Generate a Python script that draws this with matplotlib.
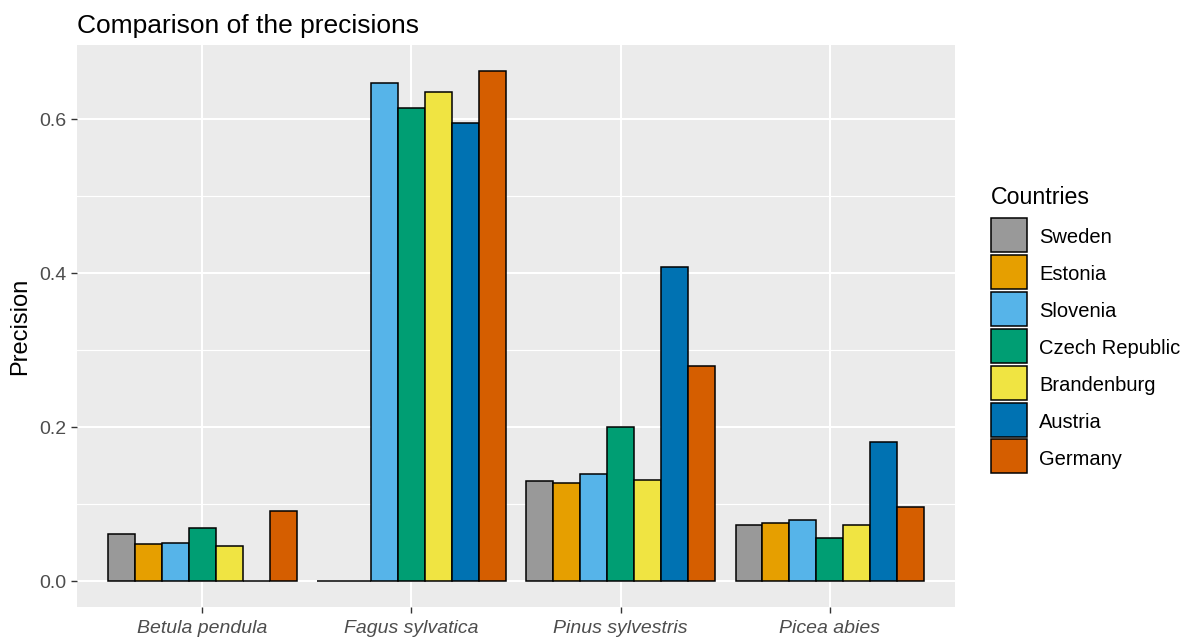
import matplotlib.pyplot as plt
import numpy as np

plt.rcParams['font.family'] = ['Liberation Sans', 'DejaVu Sans']

# donnees
species = ["Betula pendula", "Fagus sylvatica", "Pinus sylvestris", "Picea abies"]
countries = ["Sweden", "Estonia", "Slovenia", "Czech Republic", "Brandenburg", "Austria", "Germany"]
colors = ["#999999", "#E69F00", "#56B4E9", "#009E73", "#F0E442", "#0072B2", "#D55E00"]

sweden = [0.061, 0.0, 0.130, 0.073]
estonia = [0.048, 0.0, 0.128, 0.076]
slovenia = [0.050, 0.647, 0.140, 0.080]
czech = [0.069, 0.615, 0.201, 0.057]
brandenburg = [0.046, 0.635, 0.132, 0.073]
austria = [0.0, 0.595, 0.408, 0.181]
germany = [0.092, 0.663, 0.280, 0.096]

values = [sweden, estonia, slovenia, czech, brandenburg, austria, germany]

fig = plt.figure(figsize=(11.84, 6.41), dpi=100)
ax = fig.add_axes([77 / 1184, 34 / 641, 878 / 1184, 562 / 641])
ax.set_facecolor("#EBEBEB")
for s in ax.spines.values():
    s.set_visible(False)

x = np.arange(1, len(species) + 1)
n = len(countries)
w = 0.9 / n
for i in range(n):
    pos = x - 0.45 + w / 2 + i * w
    ax.bar(pos, values[i], width=w, color=colors[i], edgecolor="black",
           linewidth=1.1, label=countries[i], zorder=3)

ax.set_xlim(0.4, 4.6)
ax.set_ylim(-0.0332, 0.6962)
ax.set_yticks([0.0, 0.2, 0.4, 0.6])
ax.set_yticklabels(["0.0", "0.2", "0.4", "0.6"])
ax.set_yticks([0.1, 0.3, 0.5], minor=True)
ax.set_xticks(x)
ax.set_xticklabels(species, fontstyle="italic")

ax.grid(True, which="major", color="white", linewidth=1.5, zorder=0)
ax.grid(True, which="minor", axis="y", color="white", linewidth=0.8, zorder=0)
ax.set_axisbelow(True)
ax.tick_params(axis="both", which="major", length=4, width=1, color="#333333",
               labelcolor="#4D4D4D", labelsize=14, pad=3.5)
ax.tick_params(axis="x", which="major", pad=5.5)
ax.tick_params(axis="y", which="minor", length=0)

ax.set_ylabel("Precision", fontsize=17)
ax.yaxis.set_label_coords(-46 / 878, 0.5)
ax.set_title("Comparison of the precisions", fontsize=19, loc="left", pad=9)

# legende a droite, cles carrees comme ggplot
fig.text(991 / 1184, 1 - 204 / 641, "Countries", fontsize=16.7, va="baseline", ha="left")
leg = fig.legend(loc="upper left", bbox_to_anchor=(991 / 1184, 1 - 218 / 641),
                 fontsize=14.5, frameon=False, handlelength=1.8, handleheight=2.22,
                 handletextpad=0.6, labelspacing=0.145,
                 borderpad=0, borderaxespad=0)
for t in leg.get_texts():
    t.set_y(-2)

plt.savefig("out.png", dpi=100)
